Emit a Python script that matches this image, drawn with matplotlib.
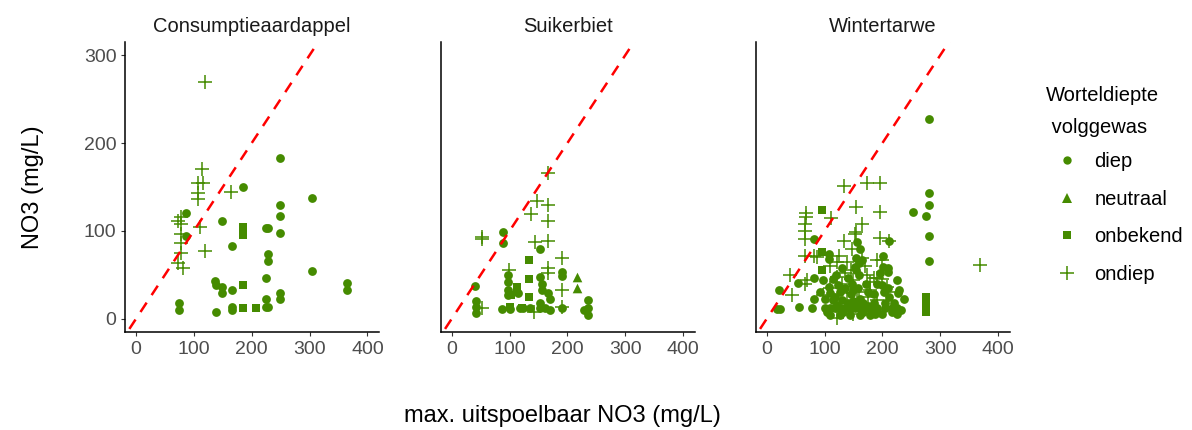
import numpy as np
import matplotlib
matplotlib.use("Agg")
import matplotlib.pyplot as plt
from matplotlib.lines import Line2D

plt.rcParams['font.family'] = ['Liberation Sans', 'DejaVu Sans']

# ---- data (x = max. uitspoelbaar NO3, y = NO3) ----
crops = ["Consumptieaardappel", "Suikerbiet", "Wintertarwe"]
depth_labels = ["diep", "neutraal", "onbekend", "ondiep"]

# Consumptieaardappel
ca_diep_x = [249, 185, 304, 249, 249, 86, 148, 225, 229, 249, 86, 166, 229, 229, 225, 304,
             137, 139, 148, 148, 166, 249, 249, 365, 365, 225, 74, 74, 138, 166, 166, 225, 229]
ca_diep_y = [183, 150, 138, 130, 117, 120, 111, 103, 103, 98, 94, 83, 74, 66, 47, 54,
             43, 38, 36, 29, 33, 29, 23, 41, 33, 22, 18, 10, 8, 13, 10, 13, 13]
ca_onbekend_x = [185, 185, 185, 185, 207]
ca_onbekend_y = [104, 95, 38, 12, 12]
ca_ondiep_x = [120, 114, 108, 115, 108, 108, 165, 72, 78, 78, 78, 110, 78, 78, 120, 72, 81]
ca_ondiep_y = [269, 170, 154, 154, 143, 136, 144, 111, 116, 108, 96, 104, 86, 75, 77, 63, 58]

# Suikerbiet
sb_diep_x = [88, 88, 153, 40, 42, 42, 42, 97, 97, 97, 97, 87, 101, 118, 124, 136, 153, 156,
             156, 167, 170, 190, 190, 153, 162, 170, 190, 228, 236, 236, 236, 115, 153]
sb_diep_y = [99, 86, 80, 37, 20, 13, 7, 50, 42, 33, 27, 11, 11, 12, 12, 12, 48, 40,
             33, 29, 23, 53, 49, 18, 12, 10, 12, 10, 21, 12, 4, 29, 12]
sb_neutraal_x = [217, 217]
sb_neutraal_y = [48, 35]
sb_onbekend_x = [133, 133, 113, 102, 133, 101, 121]
sb_onbekend_y = [67, 45, 36, 27, 25, 14, 12]
sb_ondiep_x = [167, 147, 167, 137, 167, 52, 52, 144, 167, 190, 99, 166, 166, 190, 52, 142, 190]
sb_ondiep_y = [166, 134, 130, 119, 111, 93, 91, 87, 88, 69, 56, 58, 52, 33, 12, 8, 14]

# Wintertarwe
wt_diep_x = [281, 281, 281, 253, 275, 281, 281, 81, 156, 162, 211, 107, 108, 159, 153, 155,
             201, 201, 209, 209, 81, 81, 78, 55, 22, 23, 54, 98, 107, 110, 115, 124, 127,
             130, 141, 147, 150, 162, 167, 199, 202, 211, 225, 228, 237, 227, 101, 110, 118,
             127, 136, 144, 153, 162, 170, 179, 191, 205, 217, 225, 110, 127, 144, 162, 179,
             200, 216, 232, 155, 164, 17,
             115, 120, 135, 145, 158, 172, 185, 190, 210, 220, 100, 140, 185, 195, 130, 175,
             160, 118, 92, 150, 205, 175, 122, 138, 156, 188, 226, 104, 132, 166]
wt_diep_y = [227, 143, 130, 122, 117, 94, 66, 91, 87, 79, 89, 74, 68, 63, 59, 55,
             72, 59, 53, 58, 47, 23, 12, 14, 33, 11, 41, 44, 36, 29, 21, 38, 31,
             21, 46, 40, 33, 23, 18, 38, 31, 25, 44, 33, 23, 29, 12, 12, 12,
             12, 12, 12, 12, 12, 12, 12, 12, 12, 12, 12, 4, 4, 4, 4, 4,
             6, 8, 10, 69, 67, 11,
             45, 50, 35, 28, 35, 40, 28, 40, 35, 18, 22, 18, 18, 52, 58, 30,
             50, 25, 30, 20, 18, 15, 16, 14, 16, 6, 5, 8, 8, 8]
wt_onbekend_x = [96, 96, 96, 275, 275, 275, 275]
wt_onbekend_y = [124, 76, 56, 25, 19, 13, 8]
wt_ondiep_x = [134, 173, 196, 155, 195, 111, 68, 68, 66, 66, 66, 165, 153, 155, 134, 196, 211,
               66, 81, 121, 138, 165, 199, 190, 40, 43, 69, 66, 121, 136, 150, 173, 179, 190,
               208, 98, 138, 156, 179, 190, 121, 190, 150, 369, 185, 87,
               110, 130, 145, 160, 200, 175, 110, 125, 148, 170, 210]
wt_ondiep_y = [151, 155, 154, 127, 122, 115, 120, 116, 108, 100, 91, 108, 96, 99, 89, 92, 89,
               72, 72, 65, 65, 69, 67, 67, 50, 27, 44, 40, 48, 52, 44, 50, 42, 46,
               36, 27, 29, 21, 33, 21, 1, 10, 6, 61, 46, 70,
               35, 40, 55, 30, 45, 25, 60, 72, 80, 60, 30]

panels = [
    {"diep": (ca_diep_x, ca_diep_y), "onbekend": (ca_onbekend_x, ca_onbekend_y),
     "ondiep": (ca_ondiep_x, ca_ondiep_y)},
    {"diep": (sb_diep_x, sb_diep_y), "neutraal": (sb_neutraal_x, sb_neutraal_y),
     "onbekend": (sb_onbekend_x, sb_onbekend_y), "ondiep": (sb_ondiep_x, sb_ondiep_y)},
    {"diep": (wt_diep_x, wt_diep_y), "onbekend": (wt_onbekend_x, wt_onbekend_y),
     "ondiep": (wt_ondiep_x, wt_ondiep_y)},
]

green = "#458B00"
styles = {
    "diep": dict(marker="o", s=40, linewidths=0),
    "neutraal": dict(marker="^", s=48, linewidths=0),
    "onbekend": dict(marker="s", s=40, linewidths=0),
    "ondiep": dict(marker="+", s=90, linewidths=1.1),
}

W, H = 1192, 430
fig = plt.figure(figsize=(W / 100, H / 100), dpi=100)
lefts = [125, 440.7, 755.7]
for i, crop in enumerate(crops):
    ax = fig.add_axes([lefts[i] / W, (H - 332) / H, 254 / W, 290 / H])
    for key in depth_labels:
        if key in panels[i]:
            xs, ys = panels[i][key]
            ax.scatter(xs, ys, color=green, zorder=3, **styles[key])
    ref = np.array([-50, 450])
    ax.plot(ref, ref, color="red", lw=1.8, dashes=(4.5, 3.6), zorder=4)
    ax.set_xlim(-19, 420)
    ax.set_ylim(-15, 315)
    ax.set_xticks([0, 100, 200, 300, 400])
    ax.set_yticks([0, 100, 200, 300])
    for side in ["top", "right"]:
        ax.spines[side].set_visible(False)
    for side in ["left", "bottom"]:
        ax.spines[side].set_linewidth(1.1)
        ax.spines[side].set_color("black")
    ax.tick_params(axis="both", length=3.2, width=0.8, color="#333333",
                   labelsize=14, labelcolor="#4D4D4D", pad=3)
    if i > 0:
        ax.tick_params(axis="y", left=False, labelleft=False)
    ax.set_title(crop, fontsize=14.5, color="#1A1A1A", pad=7)

fig.text(33 / W, 1 - 187 / H, "NO3 (mg/L)", rotation=90, ha="center", va="center",
         fontsize=17, color="black")
fig.text(562 / W, 1 - 416 / H, "max. uitspoelbaar NO3 (mg/L)", ha="center", va="center",
         fontsize=17, color="black")

handles = []
for key in depth_labels:
    st = styles[key]
    ms = {"diep": 6, "neutraal": 7, "onbekend": 6, "ondiep": 10}[key]
    handles.append(Line2D([], [], linestyle="none", marker=st["marker"], color=green,
                          markersize=ms, markeredgewidth=1.1 if key == "ondiep" else 0))
leg = fig.legend(handles, depth_labels, loc="upper left",
                 bbox_to_anchor=(1046 / W, 1 - 86 / H), frameon=False,
                 title="Worteldiepte\n volggewas", title_fontsize=14.5, fontsize=14.5,
                 alignment="left", labelspacing=0.92, handletextpad=0.3,
                 handlelength=2.1, borderpad=0, borderaxespad=0)
leg.get_title().set_linespacing(1.85)
leg._legend_box.sep = 11

fig.savefig("out.png", dpi=100)
